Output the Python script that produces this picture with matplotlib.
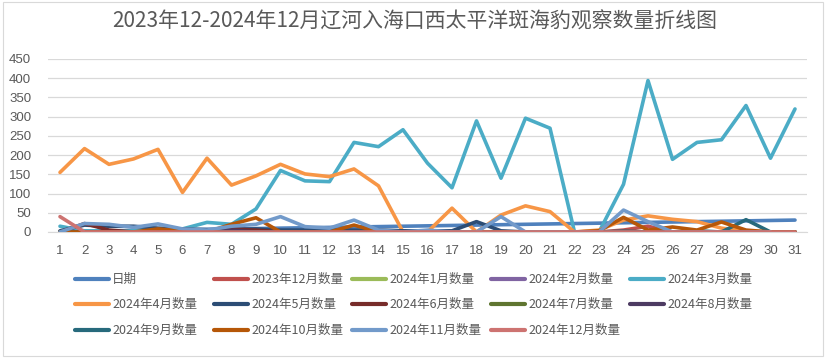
import matplotlib
matplotlib.use("Agg")
import matplotlib.pyplot as plt
from matplotlib.lines import Line2D
import numpy as np

plt.rcParams['font.family'] = ['Noto Sans CJK SC', 'DejaVu Sans']

days = list(range(1, 32))
N = None
date_vals = [1, 2, 3, 4, 5, 6, 7, 8, 9, 10, 11, 12, 13, 14, 15, 16, 17, 18, 19, 20,
             21, 22, 23, 24, 25, 26, 27, 28, 29, 30, 31]
dec2023 = [0, 0, 0, 0, 0, 0, 0, 0, 0, 0, 0, 0, 0, 0, 0, 0, 0, 0, 0, 0,
           0, 0, 0, 5, 15, 0, 0, 0, 0, 0, 0]
jan2024 = [0] * 31
feb2024 = [0, 0, 0, 0, 0, 0, 0, 0, 0, 0, 0, 0, 0, 0, 0, 0, 0, 0, 0, 0,
           0, 0, 0, 0, 0, 0, 0, 0, 0, N, N]
mar2024 = [15, 3, 3, 3, 8, 8, 25, 20, 60, 160, 133, 131, 233, 222, 266, 179, 115, 289, 140, 296,
           270, 0, 0, 124, 394, 189, 233, 240, 329, 192, 320]
apr2024 = [155, 217, 176, 190, 215, 103, 192, 122, 146, 176, 151, 144, 164, 120, 0, 0, 62, 0, 44, 68,
           53, 0, 5, 31, 42, 33, 27, 10, 3, 0, N]
may2024 = [3, 18, 15, 15, 10, 8, 6, 6, 8, 5, 5, 5, 5, 5, 3, 3, 3, 27, 3, 0,
           0, 0, 0, 0, 0, 0, 0, 0, 0, 0, 0]
jun2024 = [0, 22, 5, 0, 0, 0, 0, 8, 5, 0, 0, 0, 0, 0, 0, 0, 0, 0, 0, 0,
           0, 0, 0, 0, 0, 0, 0, 0, 0, 0, N]
jul2024 = [0] * 31
aug2024 = [0, 0, 0, 0, 0, 0, 0, 5, 0, 0, 0, 0, 0, 0, 0, 0, 0, 0, 0, 0,
           0, 0, 0, 0, 0, 0, 0, 0, 0, 0, 0]
sep2024 = [0, 0, 0, 0, 0, 0, 0, 0, 0, 0, 0, 0, 0, 0, 0, 0, 0, 0, 0, 0,
           0, 0, 0, 2, 0, 0, 3, 0, 32, 0, N]
oct2024 = [0, 0, 0, 0, 8, 3, 0, 20, 37, 0, 0, 0, 18, 0, 0, 0, 0, 0, 0, 0,
           0, 0, 3, 38, 5, 13, 5, 26, 5, 0, 0]
nov2024 = [0, 22, 20, 12, 21, 8, 5, 15, 20, 40, 14, 10, 31, 5, 0, 5, 0, 0, 40, 0,
           0, 0, 0, 57, 27, 0, 0, 0, 0, 0, N]
dec2024 = [40, 0, 0, 0, 0, 0, 0, 0, 0, 0, 0, 0, 0, 0, 0, 0, 0, 0, 0, 0,
           0, 0, 0, 0, 0, 0, 0, 0, 0, 0, 0]

series_names = ["日期", "2023年12月数量", "2024年1月数量", "2024年2月数量", "2024年3月数量",
                "2024年4月数量", "2024年5月数量", "2024年6月数量", "2024年7月数量", "2024年8月数量",
                "2024年9月数量", "2024年10月数量", "2024年11月数量", "2024年12月数量"]
series_vals = [date_vals, dec2023, jan2024, feb2024, mar2024, apr2024, may2024, jun2024,
               jul2024, aug2024, sep2024, oct2024, nov2024, dec2024]
colors = ["#4F81BD", "#C0504D", "#9BBB59", "#8064A2", "#4BACC6", "#F79646",
          "#2C4D75", "#772C2A", "#5F7530", "#4D3B62", "#276A7C", "#B65708",
          "#729ACA", "#CD7371"]

W, H = 830, 358
fig = plt.figure(figsize=(W / 100, H / 100), dpi=100)
fig.add_artist(plt.Rectangle((3 / W, 2 / H), 820 / W, 354 / H, transform=fig.transFigure,
                             fill=False, edgecolor='#D9D9D9', lw=0.8))
ax = fig.add_axes([47.75 / W, 1 - 232 / H, (807.25 - 47.75) / W, (232 - 59) / H])

for name, vals, c in zip(series_names, series_vals, colors):
    y = np.array([np.nan if v is None else v for v in vals], dtype=float)
    ax.plot(days, y, color=c, lw=2.6, solid_capstyle='round', solid_joinstyle='round',
            label=name, zorder=3)

ax.set_xlim(0.5, 31.5)
ax.set_ylim(0, 450)
ax.set_yticks(np.arange(0, 451, 50))
ax.set_xticks(days)
ax.grid(axis='y', color='#D9D9D9', lw=0.9, zorder=0)
for s in ['top', 'right', 'left']:
    ax.spines[s].set_visible(False)
ax.spines['bottom'].set_color('#D9D9D9')
ax.tick_params(axis='both', length=0, labelsize=9.5, colors='#595959', labelfontfamily='Liberation Sans')
ax.tick_params(axis='x', pad=9)
ax.tick_params(axis='y', pad=12)

fig.text(0.5, 1 - 22 / H, "2023年12-2024年12月辽河入海口西太平洋斑海豹观察数量折线图",
         ha='center', va='center', fontsize=15, color='#595959')

# legend, manual grid like Excel
col_x = [75, 214, 352, 491, 630]
row_y = [279, 304, 330]
for i, (name, c) in enumerate(zip(series_names, colors)):
    r, k = divmod(i, 5)
    x0 = col_x[k]
    yy = 1 - row_y[r] / H
    fig.add_artist(Line2D([x0 / W, (x0 + 34) / W], [yy, yy], color=c, lw=3,
                          solid_capstyle='round', transform=fig.transFigure))
    fig.text((x0 + 37) / W, yy, name, ha='left', va='center', fontsize=9, color='#595959')

fig.savefig("out.png", dpi=100)
